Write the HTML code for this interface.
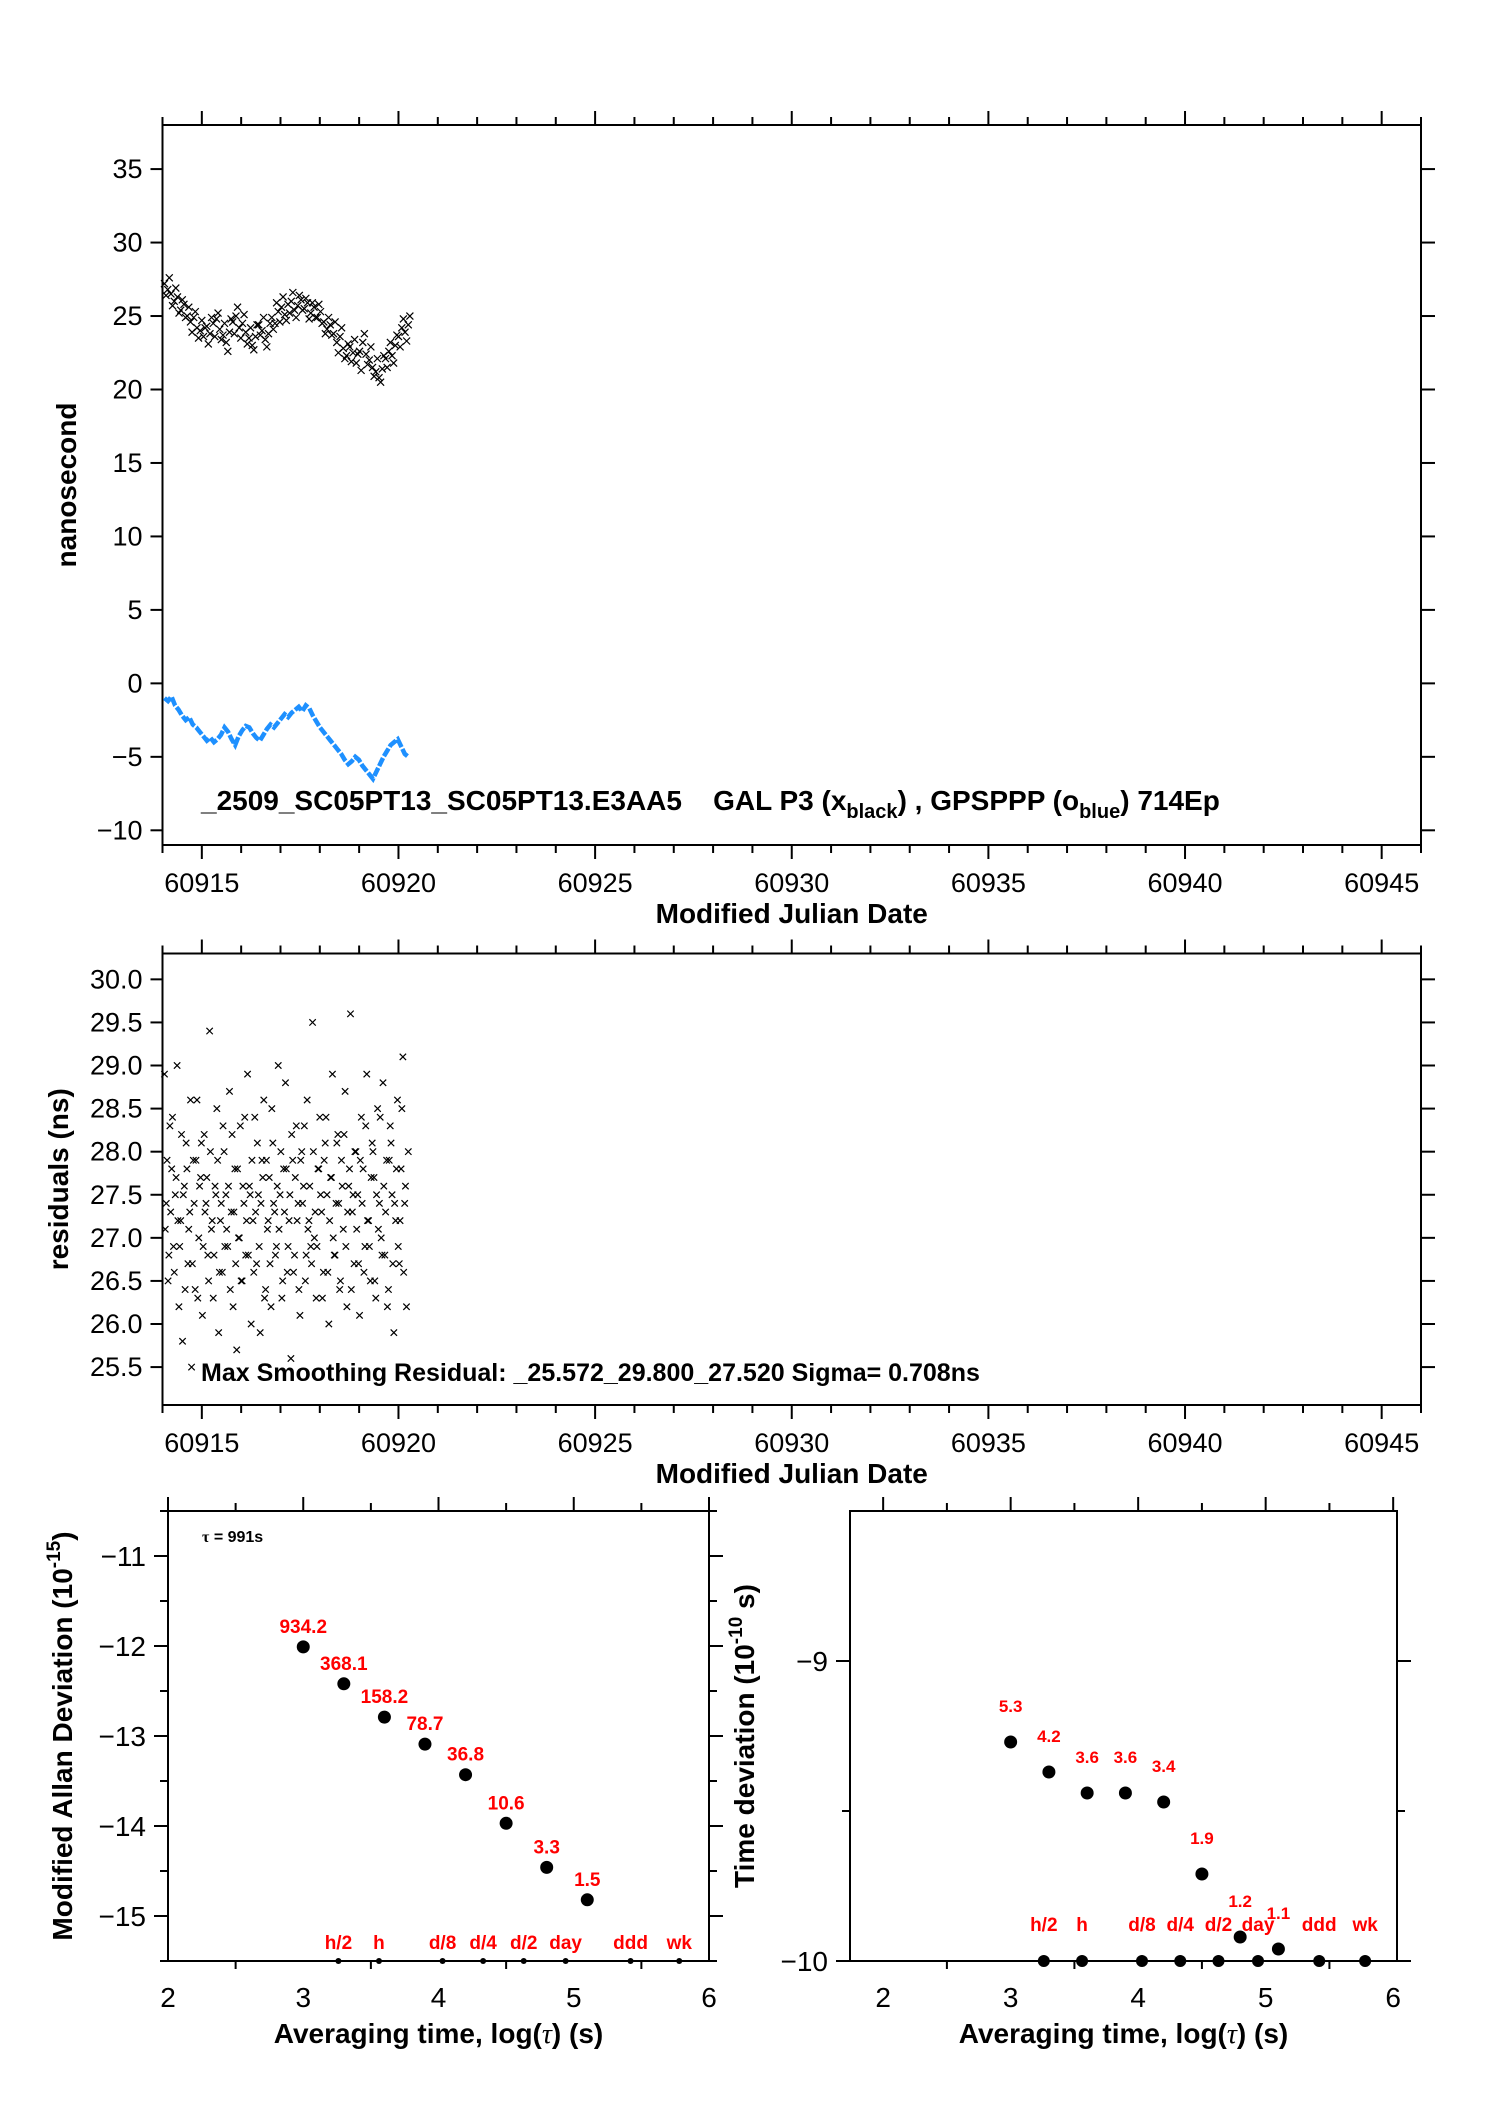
<!DOCTYPE html>
<html><head><meta charset="utf-8"><style>
html,body{margin:0;padding:0;background:#fff}
svg{display:block}
text{font-family:"Liberation Sans",sans-serif}
</style></head><body>
<svg id="s" width="1488" height="2105" viewBox="0 0 1488 2105" xmlns="http://www.w3.org/2000/svg"></svg>
<script>
const blackVals=[27.2,26.8,26.5,26.0,26.3,25.4,25.8,25.0,24.6,24.9,24.2,24.0,23.6,24.3,23.8,24.5,24.8,24.1,23.7,23.2,23.9,24.6,25.0,24.2,24.5,23.9,23.5,23.0,23.6,24.4,24.0,23.4,23.8,24.9,24.5,25.3,25.6,25.1,25.8,26.0,25.4,25.7,26.1,25.5,25.9,25.2,25.6,24.9,25.3,24.6,24.1,24.4,23.8,23.2,23.6,22.8,22.3,22.9,22.5,21.8,22.6,23.2,22.4,22.0,21.5,21.2,20.8,21.4,22.1,22.6,22.3,23.0,23.6,24.2,23.9,24.4];
const blackAlt=[26.4,27.6,25.7,26.9,25.2,26.1,24.9,25.6,23.9,25.3,23.5,24.7,24.2,23.1,24.9,23.6,25.2,23.4,24.5,22.6,24.8,23.8,25.6,23.5,25.1,23.1,24.2,22.7,24.4,23.7,24.9,22.9,24.5,24.1,25.9,24.6,26.3,24.7,25.2,26.6,24.9,26.4,25.4,26.2,24.8,25.9,24.9,25.8,24.5,23.8,24.9,23.7,24.6,22.5,24.2,22.1,23.1,21.9,23.4,22.4,21.3,23.8,21.7,22.9,20.9,22.1,20.5,22.3,21.5,23.2,21.8,23.7,22.9,24.8,23.3,25.0];
const blueVals=[-1.0,-1.2,-0.9,-1.5,-1.8,-2.2,-2.5,-2.3,-2.8,-3.0,-3.3,-3.6,-3.9,-3.7,-4.0,-3.8,-3.5,-3.0,-3.3,-3.8,-4.2,-3.6,-3.2,-2.9,-3.0,-3.4,-3.7,-3.9,-3.5,-3.1,-2.8,-3.0,-2.7,-2.4,-2.1,-2.3,-2.0,-1.8,-1.6,-1.9,-1.5,-1.7,-2.2,-2.6,-3.0,-3.3,-3.6,-3.9,-4.2,-4.5,-4.8,-5.2,-5.5,-5.3,-5.0,-5.2,-5.6,-5.9,-6.2,-6.5,-6.0,-5.5,-5.0,-4.6,-4.2,-4.0,-3.8,-4.3,-4.8,-5.0];
const resVals=[28.9,27.4,26.5,28.3,27.8,26.9,27.5,29.0,26.2,27.2,25.8,27.6,28.1,26.7,27.3,25.5,27.9,26.4,28.6,27.0,27.7,26.1,28.2,27.4,26.8,29.4,27.1,26.3,27.6,28.5,25.9,27.2,26.6,28.0,27.5,26.9,28.7,27.3,26.2,27.8,25.7,27.0,28.3,26.5,27.4,26.8,28.9,27.6,26.0,27.2,28.4,26.7,27.5,25.9,27.9,28.6,26.4,27.1,27.7,26.2,28.1,27.3,26.9,29.0,27.5,26.3,27.8,28.8,26.6,27.2,25.6,27.9,26.8,28.3,27.4,26.1,28.0,27.6,26.5,28.6,27.2,26.9,29.5,27.0,26.3,27.8,28.4,27.3,26.6,28.1,27.5,26.0,27.7,28.9,26.8,27.4,28.2,26.4,27.9,27.1,28.7,26.2,27.6,29.6,27.3,26.7,28.0,27.5,26.1,28.4,27.8,26.9,28.9,27.2,26.5,28.1,27.7,26.3,28.5,27.4,27.0,28.8,26.8,27.9,26.4,28.3,27.5,25.9,27.2,28.6,26.7,27.8,29.1,27.4,26.2,28.0];
const resAlt=[27.1,27.9,26.8,27.3,28.4,26.6,27.7,27.2,26.9,28.2,27.5,26.4,27.8,27.1,28.6,26.7,27.4,27.9,26.3,27.6,28.1,26.9,27.3,27.7,26.5,28.0,27.2,26.8,27.5,27.9,26.6,27.4,28.3,26.9,27.1,27.6,26.4,28.2,27.3,26.7,27.8,27.0,26.5,27.6,28.4,27.2,26.8,27.5,27.9,26.6,27.3,28.1,26.9,27.4,27.7,26.3,27.9,27.2,26.7,28.5,27.4,26.8,27.6,27.1,28.0,26.5,27.3,27.8,26.9,27.5,28.2,26.6,27.7,27.2,26.4,27.9,27.4,28.3,26.8,27.1,27.6,26.7,28.0,27.3,26.9,27.8,27.5,26.3,27.9,28.4,26.6,27.2,27.7,27.0,26.8,28.1,27.4,26.5,27.6,28.2,26.9,27.3,27.8,26.4,27.5,28.0,27.1,26.7,27.9,27.4,26.6,28.3,27.2,26.9,27.7,28.0,26.5,27.5,27.1,28.4,26.8,27.6,27.3,26.2,27.9,28.1,26.7,27.4,27.8,26.9,27.2,28.5,26.6,27.6];
const adevX=[3,3.3,3.6,3.9,4.2,4.5,4.8,5.1];
const adevY=[-12.01,-12.42,-12.79,-13.09,-13.43,-13.97,-14.46,-14.82];
const adevLabels=["934.2","368.1","158.2","78.7","36.8","10.6","3.3","1.5"];
const tdevY=[-9.27,-9.37,-9.44,-9.44,-9.47,-9.71,-9.92,-9.96];
const tdevLabels=["5.3","4.2","3.6","3.6","3.4","1.9","1.2","1.1"];
const markX=[3.26,3.56,4.03,4.33,4.63,4.94,5.42,5.78];
const markLabels=["h/2","h","d/8","d/4","d/2","day","ddd","wk"];
const mjdTicks=[60915,60920,60925,60930,60935,60940,60945];
const nsTicks=[35,30,25,20,15,10,5,0,-5,-10];
const resTicks=[30.0,29.5,29.0,28.5,28.0,27.5,27.0,26.5,26.0,25.5];

const S=document.getElementById('s');const NS='http://www.w3.org/2000/svg';
function mk(tag,at,parent){const e=document.createElementNS(NS,tag);for(const k in at)e.setAttribute(k,at[k]);(parent||S).appendChild(e);return e;}
function lin(d0,d1,r0,r1){return v=>r0+(v-d0)/(d1-d0)*(r1-r0);}
function txt(x,y,s,o,p){const t=mk('text',Object.assign({x:x,y:y,'font-size':26,fill:'#000'},o||{}),p);t.textContent=s;return t;}
function line(x1,y1,x2,y2,p,c){return mk('line',{x1,y1,x2,y2,stroke:c||'#000','stroke-width':2},p);}
function xmark(x,y,p,r){r=r||3.5;return mk('path',{d:`M${x-r},${y-r}L${x+r},${y+r}M${x-r},${y+r}L${x+r},${y-r}`,stroke:'#000','stroke-width':1.2,fill:'none'},p);}

const L=162.5,R=1421;
const xm=lin(60914,60946,L,R);
function mjdAxes(g,T,B,yTicks,ys,fmt){
  mk('rect',{x:L,y:T,width:R-L,height:B-T,fill:'none',stroke:'#000','stroke-width':2},g);
  for(let d=60914;d<=60946;d++){const x=xm(d);const maj=(d%5===0);
    line(x,T,x,T-(maj?14:8),g);line(x,B,x,B+(maj?14:8),g);}
  mjdTicks.forEach(v=>{const t=txt(xm(v),B+47,String(v),{'text-anchor':'middle','font-size':27},g);});
  yTicks.forEach(v=>{const y=ys(v);line(L,y,L-12,y,g);line(R,y,R+14,y,g);
    const t=txt(L-20,y+9,fmt(v),{'text-anchor':'end','font-size':27},g);});
  const xt=txt((L+R)/2,B+78,'Modified Julian Date',{'text-anchor':'middle','font-size':28,'font-weight':'bold'},g);
  
}
const g1=mk('g',{});
const T1=125,B1=845;const y1=lin(38,-11,T1,B1);
mjdAxes(g1,T1,B1,nsTicks,y1,v=>v<0?'\u2212'+(-v):String(v));
let yt=txt(76,(T1+B1)/2,'nanosecond',{'text-anchor':'middle','font-size':28,'font-weight':'bold',transform:`rotate(-90 76 ${(T1+B1)/2})`},g1);

const gb=mk('g',{},g1);
blackVals.forEach((v,i)=>{const d=60914.05+i*6.2/(blackVals.length-1);
  const m=xmark(xm(d),y1(v),gb);
  const m2=xmark(xm(d+0.04),y1(blackAlt[i]),gb);});
const gbl=mk('g',{},g1);
let pts=blueVals.map((v,i)=>[xm(60914.05+i*6.2/(blueVals.length-1)),y1(v)]);
const pl=mk('polyline',{points:pts.map(p=>p.join(',')).join(' '),fill:'none',stroke:'#1e90ff','stroke-width':4.5,'stroke-dasharray':'9 2'},gbl);

const tt=mk('text',{x:201,y:810,'font-size':28,'font-weight':'bold',fill:'#000'},g1);

tt.innerHTML='_2509_SC05PT13_SC05PT13.E3AA5 \u00a0\u00a0 GAL P3 (x<tspan font-size="20" dy="8">black</tspan><tspan dy="-8">) ,  GPSPPP (o</tspan><tspan font-size="20" dy="8">blue</tspan><tspan dy="-8">)  714Ep</tspan>';

const g2=mk('g',{});
const T2=953.5,B2=1405;const y2=lin(30.3,25.06,T2,B2);
mjdAxes(g2,T2,B2,resTicks,y2,v=>v.toFixed(1));
yt=txt(68,(T2+B2)/2,'residuals (ns)',{'text-anchor':'middle','font-size':28,'font-weight':'bold',transform:`rotate(-90 68 ${(T2+B2)/2})`},g2);

const gr=mk('g',{},g2);
resVals.forEach((v,i)=>{const d=60914.05+i*6.2/(resVals.length-1);const m=xmark(xm(d),y2(v),gr,3.2);
  
  const m2=xmark(xm(d+0.02),y2(resAlt[i]),gr,3.2);});
const rt=txt(201,1381,'Max Smoothing Residual: _25.572_29.800_27.520  Sigma= 0.708ns',{'font-size':25,'font-weight':'bold'},g2);


function stab(name,L,R,T,B,x0,x1,ymin,ymax,yMaj,yMin,ys,labels,ytitle,yfmt){
  const g=mk('g',{});
  const xs=lin(x0,x1,L,R),yy=lin(ymax,ymin,T,B);
  const td=name==='tdev-panel';
  mk('rect',{x:L,y:T,width:R-L,height:B-T,fill:'none',stroke:'#000','stroke-width':2},g);
  for(let v=2;v<=6.001;v+=0.5){const x=xs(v);const maj=Math.abs(v-Math.round(v))<1e-6;line(x,T,x,T-(maj?14:8),g);line(x,B,x,B+(maj?0:8),g);}
  [2,3,4,5,6].forEach(v=>{const t=txt(xs(v),B+46,String(v),{'text-anchor':'middle','font-size':28},g);});
  yMin.forEach(v=>{const y=yy(v);line(L,y,L-8,y,g);line(R,y,R+8,y,g);});
  yMaj.forEach(v=>{const y=yy(v);line(L,y,L-14,y,g);line(R,y,R+14,y,g);
    const t=txt(L-22,y+10,yfmt(v),{'text-anchor':'end','font-size':28},g);});
  const xt=mk('text',{x:(L+R)/2,y:B+82,'font-size':28,'font-weight':'bold','text-anchor':'middle'},g);
  xt.innerHTML='Averaging time, log(<tspan font-family="Liberation Serif" font-style="italic" font-weight="normal">τ</tspan>) (s)';
  
  const cx=L-96,cy=(T+B)/2;
  const yt=mk('text',{x:cx,y:cy,'font-size':28,'font-weight':'bold','text-anchor':'middle',transform:`rotate(-90 ${cx} ${cy})`},g);
  yt.innerHTML=ytitle;
  adevX.forEach((x,i)=>{const c=mk('circle',{cx:xs(x),cy:yy(ys[i]),r:6.5,fill:'#000'},g);
    const t=txt(xs(x),yy(ys[i])-(td?30:14),labels[i],{'text-anchor':'middle','font-size':td?17:19,'font-weight':'bold',fill:'#ff0000'},g);});
  markX.forEach((x,i)=>{const c=mk('circle',{cx:xs(x),cy:B,r:td?6:3,fill:'#000'},g);
    const t=txt(xs(x),B-(td?30:12),markLabels[i],{'text-anchor':'middle','font-size':19,'font-weight':'bold',fill:'#ff0000'},g);});
  return g;
}
const ga=stab('adev-panel',168,709,1511,1961,2,6,-15.5,-10.5,[-11,-12,-13,-14,-15],[-10.5,-11.5,-12.5,-13.5,-14.5,-15.5],adevY,adevLabels,
 'Modified Allan Deviation (10<tspan font-size="19" dy="-12">-15</tspan><tspan dy="12">)</tspan>',v=>'\u2212'+(-v));
const tau=txt(202,1542,'',{'font-size':16,'font-weight':'bold'},ga);tau.innerHTML='<tspan font-family="Liberation Serif">τ</tspan> = 991s';

stab('tdev-panel',850,1397,1511,1961,1.74,6.03,-10,-8.5,[-9,-10],[-9.5],tdevY,tdevLabels,
 'Time deviation (10<tspan font-size="19" dy="-12">-10</tspan><tspan dy="12"> s)</tspan>',v=>'\u2212'+(-v));
</script>
</body></html>
